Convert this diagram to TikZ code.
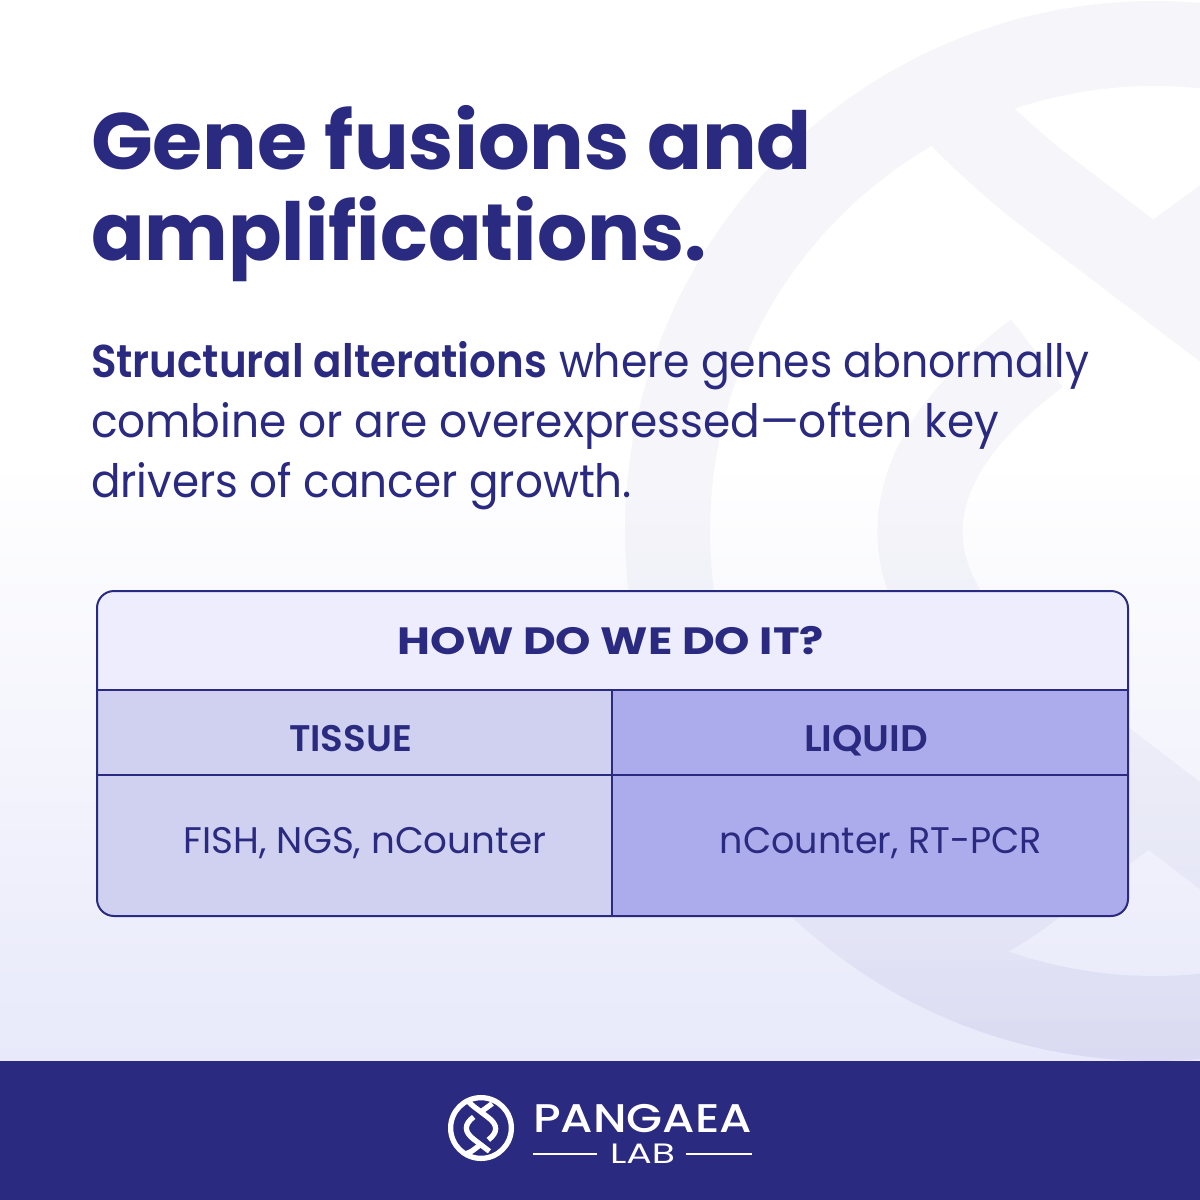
\documentclass[tikz,border=0pt]{standalone}
\usepackage{fontspec}
\usepackage{graphicx}
\setmainfont{Poppins}
\newfontfamily\semi{Poppins SemiBold}
\newfontfamily\medi{Poppins Medium}
\definecolor{navy}{HTML}{2A2A80}
\definecolor{bgend}{HTML}{E8E9FA}
\definecolor{rowtop}{HTML}{EDEDFD}
\definecolor{rowleft}{HTML}{D0D1F0}
\definecolor{rowright}{HTML}{ACABEB}
\newcommand{\fitw}[2]{\resizebox{#1pt}{\height}{#2}}
\newcommand{\fsz}[1]{\fontsize{#1pt}{#1pt}\selectfont}
% helix mark in its own units: centre at origin, outer radius 530
\newcommand{\helixmark}[2]{%
  \draw[#1,line width=#2*85pt] (0,0) circle [radius=487.5];
  \begin{scope}
    \clip (0,0) circle [radius=495];
    \draw[#1,line width=#2*85pt] (-225,-450)
      .. controls (-190,-410) and (-170,-390) .. (-120,-348) -- (125,-162)
      .. controls (195,-107) and (235,-50) .. (235,10)
      .. controls (235,71) and (195,130) .. (118,190);
    \draw[#1,line width=#2*85pt] (-118,-178)
      .. controls (-195,-119) and (-235,-61) .. (-235,1)
      .. controls (-235,59) and (-195,119) .. (-125,174) -- (135,374);
    \draw[#1,line width=#2*85pt] (-3,-258) -- (180,-392);
    \draw[#1,line width=#2*85pt] (-7,266) -- (-130,359)
      .. controls (-170,389) and (-200,400) .. (-240,410);
  \end{scope}}
\tikzset{
  txt/.style={inner sep=0pt,outer sep=0pt,anchor=base west,text=navy},
  mid/.style={inner sep=0pt,outer sep=0pt,anchor=base,text=navy},
  grid/.style={navy,line width=2pt},
}
\begin{document}
\begin{tikzpicture}[x=1pt,y=-1pt]
\useasboundingbox (0,0) rectangle (1200,1200);
\clip (0,0) rectangle (1200,1200);
% background
\fill[white] (0,0) rectangle (1200,460);
\fill[top color=white,bottom color=bgend,draw=none] (0,460) rectangle (1200,1062);
% watermark: faint overall, a little stronger towards the bottom in fine steps
\begin{scope}[transparency group,opacity=.04]
  \begin{scope}[shift={(1155,531)}]
    \helixmark{navy}{1}
  \end{scope}
\end{scope}
\foreach \ystep in {900,960,1020}{
  \begin{scope}
    \clip (0,\ystep) rectangle (1200,1062);
    \begin{scope}[transparency group,opacity=.006]
      \begin{scope}[shift={(1155,531)}]
        \helixmark{navy}{1}
      \end{scope}
    \end{scope}
  \end{scope}
}
% footer
\fill[navy] (0,1061) rectangle (1200,1200);
% table
\coordinate (tl) at (97,591);
\coordinate (tr) at (1128,591);
\coordinate (bl) at (97,916);
\coordinate (br) at (1128,916);
\fill[rowtop,rounded corners=17pt] (97,700) -- (tl) -- (tr) -- (1128,700) -- cycle;
\fill[rowleft,rounded corners=17pt] (612,690) -- (97,690) -- (bl) -- (612,916) -- cycle;
\fill[rowleft] (97,690) rectangle (612,720) (590,690) rectangle (612,916);
\fill[rowright,rounded corners=17pt] (612,690) -- (1128,690) -- (br) -- (612,916) -- cycle;
\fill[rowright] (612,690) rectangle (1128,720) (612,690) rectangle (640,916);
\draw[grid,rounded corners=17pt] (612,916) -- (bl) -- (tl) -- (tr) -- (br) -- (612,916);
\draw[grid] (97,690) -- (1128,690);
\draw[grid] (97,775) -- (1128,775);
\draw[grid] (612,690) -- (612,917);
% title
\node[txt] (title1) at (91,169) {\fitw{721}{\fsz{80}\bfseries Gene fusions and}};
\node[txt] (title2) at (91,260) {\fitw{616}{\fsz{80}\bfseries amplifications.}};
% body
\node[txt] (body1) at (91,377) {\fitw{456}{\fsz{46}\semi Structural alterations}\hspace{12pt}\fitw{530}{\fsz{46}where genes abnormally}};
\node[txt] (body2) at (91,437) {\fitw{908}{\fsz{46}combine or are overexpressed—often key}};
\node[txt] (body3) at (91,497) {\fitw{541}{\fsz{46}drivers of cancer growth.}};
% table text
\node[mid] (how) at (611,654) {\fitw{426}{\fsz{38}\bfseries HOW DO WE DO IT?}};
\node[mid] (tissue) at (350.5,751) {\fitw{123}{\fsz{37}\semi TISSUE}};
\node[mid] (liquid) at (866,751) {\fitw{124}{\fsz{37}\semi LIQUID}};
\node[mid] (fish) at (365,853) {\fitw{362}{\fsz{37}FISH, NGS, nCounter}};
\node[mid] (ncount) at (881,853) {\fitw{322}{\fsz{37}nCounter, RT-PCR}};
% logo
\begin{scope}[shift={(481,1128)},scale=.0623]
  \helixmark{white}{.0623}
\end{scope}
\node[txt,text=white] (pangaea) at (533,1132) {\fitw{219}{\fsz{40}\medi PANGAEA}};
\node[mid,text=white] (lab) at (642.5,1163) {\fitw{65}{\fsz{28}LAB}};
\coordinate (ll) at (533,1154);
\coordinate (lr) at (597,1154);
\coordinate (rl) at (686,1154);
\coordinate (rr) at (752,1154);
\draw[white,line width=2pt] (ll) -- (lr);
\draw[white,line width=2pt] (rl) -- (rr);
\end{tikzpicture}
\end{document}
